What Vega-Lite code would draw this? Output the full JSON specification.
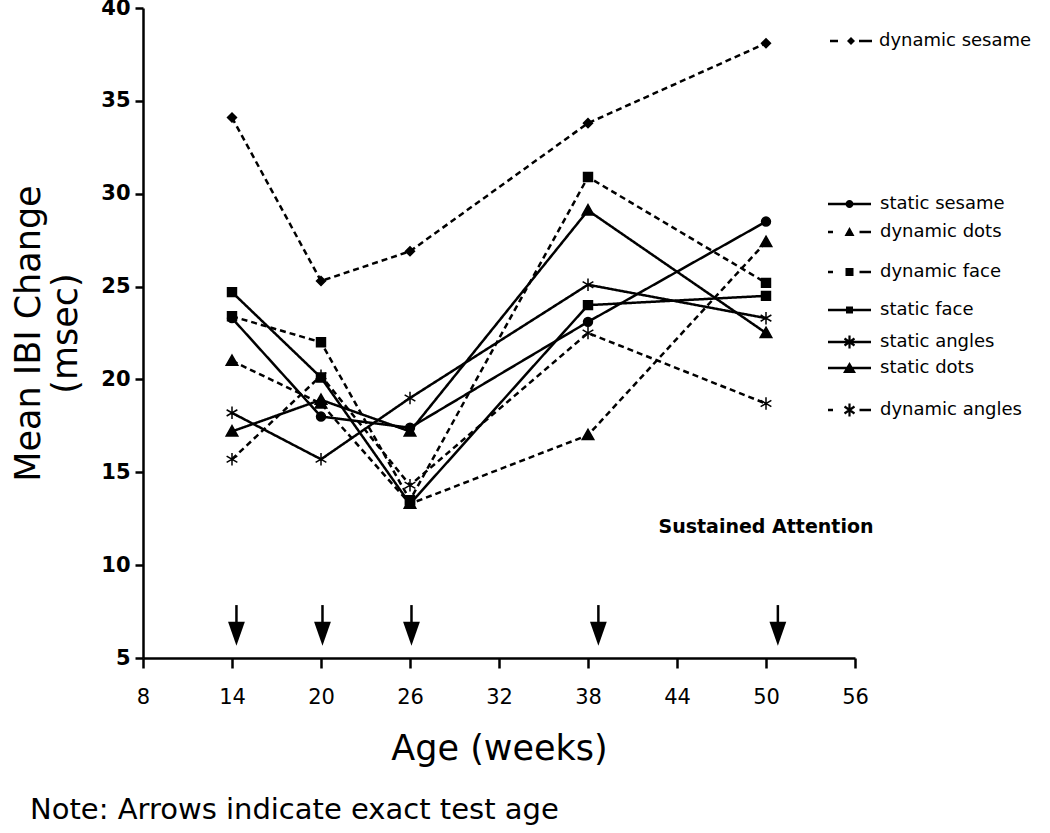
{
  "$schema": "https://vega.github.io/schema/vega-lite/v6.json",
  "width": 712,
  "height": 650,
  "autosize": {"type": "none"},
  "padding": {"left": 143, "top": 8, "right": 195, "bottom": 175},
  "background": "white",
  "title": {
    "text": "Note: Arrows indicate exact test age",
    "orient": "bottom",
    "anchor": "start",
    "frame": "group",
    "dx": -113,
    "offset": 30,
    "font": "DejaVu Sans",
    "fontSize": 29,
    "fontWeight": "normal",
    "color": "black"
  },
  "datasets": {
    "ibi": [
      {"series": "dynamic sesame", "age": 14, "ibi": 34.1},
      {"series": "dynamic sesame", "age": 20, "ibi": 25.3},
      {"series": "dynamic sesame", "age": 26, "ibi": 26.9},
      {"series": "dynamic sesame", "age": 38, "ibi": 33.8},
      {"series": "dynamic sesame", "age": 50, "ibi": 38.1},
      {"series": "static sesame", "age": 14, "ibi": 23.3},
      {"series": "static sesame", "age": 20, "ibi": 18.0},
      {"series": "static sesame", "age": 26, "ibi": 17.4},
      {"series": "static sesame", "age": 38, "ibi": 23.1},
      {"series": "static sesame", "age": 50, "ibi": 28.5},
      {"series": "dynamic dots", "age": 14, "ibi": 21.0},
      {"series": "dynamic dots", "age": 20, "ibi": 18.7},
      {"series": "dynamic dots", "age": 26, "ibi": 13.3},
      {"series": "dynamic dots", "age": 38, "ibi": 17.0},
      {"series": "dynamic dots", "age": 50, "ibi": 27.4},
      {"series": "dynamic face", "age": 14, "ibi": 23.4},
      {"series": "dynamic face", "age": 20, "ibi": 22.0},
      {"series": "dynamic face", "age": 26, "ibi": 13.5},
      {"series": "dynamic face", "age": 38, "ibi": 30.9},
      {"series": "dynamic face", "age": 50, "ibi": 25.2},
      {"series": "static face", "age": 14, "ibi": 24.7},
      {"series": "static face", "age": 20, "ibi": 20.1},
      {"series": "static face", "age": 26, "ibi": 13.3},
      {"series": "static face", "age": 38, "ibi": 24.0},
      {"series": "static face", "age": 50, "ibi": 24.5},
      {"series": "static angles", "age": 14, "ibi": 18.2},
      {"series": "static angles", "age": 20, "ibi": 15.7},
      {"series": "static angles", "age": 26, "ibi": 19.0},
      {"series": "static angles", "age": 38, "ibi": 25.1},
      {"series": "static angles", "age": 50, "ibi": 23.3},
      {"series": "static dots", "age": 14, "ibi": 17.2},
      {"series": "static dots", "age": 20, "ibi": 18.9},
      {"series": "static dots", "age": 26, "ibi": 17.2},
      {"series": "static dots", "age": 38, "ibi": 29.1},
      {"series": "static dots", "age": 50, "ibi": 22.5},
      {"series": "dynamic angles", "age": 14, "ibi": 15.7},
      {"series": "dynamic angles", "age": 20, "ibi": 20.2},
      {"series": "dynamic angles", "age": 26, "ibi": 14.3},
      {"series": "dynamic angles", "age": 38, "ibi": 22.5},
      {"series": "dynamic angles", "age": 50, "ibi": 18.7}
    ],
    "arrows": [
      {"test_age": 14.3},
      {"test_age": 20.1},
      {"test_age": 26.1},
      {"test_age": 38.7},
      {"test_age": 50.8}
    ],
    "notes": [
      {"label": "Sustained Attention"}
    ]
  },
  "config": {
    "view": {"stroke": null},
    "axis": {
      "grid": false,
      "domainColor": "black",
      "domainWidth": 2.5,
      "tickColor": "black",
      "tickWidth": 2.5,
      "labelColor": "black",
      "titleColor": "black",
      "labelFont": "DejaVu Sans",
      "titleFont": "DejaVu Sans",
      "titleFontWeight": "normal"
    }
  },
  "layer": [
    {
      "data": {"name": "ibi"},
      "mark": {"type": "line", "color": "black", "strokeWidth": 2.5},
      "encoding": {
        "x": {
          "field": "age", "type": "quantitative",
          "scale": {"domain": [8, 56], "nice": false, "zero": false},
          "axis": {
            "values": [8, 14, 20, 26, 32, 38, 44, 50, 56],
            "title": "Age (weeks)",
            "titleFontSize": 35,
            "titlePadding": 24,
            "labelFontSize": 21,
            "labelPadding": 18,
            "tickSize": 10,
            "labelFlush": false
          }
        },
        "y": {
          "field": "ibi", "type": "quantitative",
          "scale": {"domain": [5, 40], "nice": false, "zero": false},
          "axis": {
            "values": [5, 10, 15, 20, 25, 30, 35, 40],
            "title": ["Mean IBI Change", "(msec)"],
            "titleFontSize": 35,
            "titleLineHeight": 37,
            "titlePadding": 17,
            "labelFontSize": 21,
            "labelFontWeight": "bold",
            "labelPadding": 5,
            "tickSize": 8,
            "labelFlush": false
          }
        },
        "detail": {"field": "series"},
        "strokeDash": {
          "field": "series", "type": "nominal",
          "scale": {
            "domain": ["dynamic sesame", "static sesame", "dynamic dots", "dynamic face", "static face", "static angles", "static dots", "dynamic angles"],
            "range": [[6, 4], [1, 0], [6, 4], [6, 4], [1, 0], [1, 0], [1, 0], [6, 4]]
          },
          "legend": null
        }
      }
    },
    {
      "data": {"name": "ibi"},
      "mark": {"type": "point", "filled": true, "color": "black", "stroke": "black", "strokeWidth": 1.5, "size": 80, "opacity": 1},
      "encoding": {
        "x": {"field": "age", "type": "quantitative"},
        "y": {"field": "ibi", "type": "quantitative"},
        "shape": {
          "field": "series", "type": "nominal",
          "scale": {
            "domain": ["dynamic sesame", "static sesame", "dynamic dots", "dynamic face", "static face", "static angles", "static dots", "dynamic angles"],
            "range": ["diamond", "circle", "M0,-1.3L1.3,1L-1.3,1Z", "square", "square", "M0,-1.4L0,1.4M-1.2,-0.7L1.2,0.7M-1.2,0.7L1.2,-0.7", "M0,-1.3L1.3,1L-1.3,1Z", "M0,-1.4L0,1.4M-1.2,-0.7L1.2,0.7M-1.2,0.7L1.2,-0.7"]
          },
          "legend": null
        }
      }
    },
    {
      "data": {"name": "ibi"},
      "transform": [{"filter": "datum.series === 'dynamic sesame'"}],
      "mark": {"type": "point", "filled": true, "fill": "black", "strokeWidth": 0, "opacity": 0},
      "encoding": {
        "x": {"field": "age", "type": "quantitative"},
        "y": {"field": "ibi", "type": "quantitative"},
        "shape": {
          "field": "series", "type": "nominal",
          "scale": {
            "domain": ["dynamic sesame"],
            "range": ["M-4.2,-0.25L-2.6,-0.25L-2.6,0.25L-4.2,0.25ZM0,-0.8L0.8,0L0,0.8L-0.8,0ZM1.6,-0.25L4.2,-0.25L4.2,0.25L1.6,0.25Z"]
          },
          "legend": {
            "orient": "none", "legendX": 699, "legendY": 24,
            "title": null, "padding": 0,
            "labelFont": "DejaVu Sans", "labelFontSize": 18, "labelColor": "black",
            "labelOffset": 19,
            "symbolOpacity": 1, "symbolFillColor": "black", "symbolStrokeWidth": 0, "symbolSize": 100
          }
        }
      }
    },
    {
      "data": {"name": "ibi"},
      "transform": [{"filter": "datum.series !== 'dynamic sesame'"}],
      "mark": {"type": "point", "filled": true, "fill": "black", "strokeWidth": 0, "opacity": 0},
      "encoding": {
        "x": {"field": "age", "type": "quantitative"},
        "y": {"field": "ibi", "type": "quantitative"},
        "shape": {
          "field": "series", "type": "nominal",
          "scale": {
            "domain": ["static sesame", "dynamic dots", "dynamic face", "static face", "static angles", "static dots", "dynamic angles"],
            "range": [
              "M-4.3,-0.25L4.3,-0.25L4.3,0.25L-4.3,0.25ZM-0.8,0A0.8 0.8 0 1 1 0.8,0A0.8 0.8 0 1 1 -0.8,0ZM0,-2M0,2.7",
              "M-4.3,-0.25L-3.3,-0.25L-3.3,0.25L-4.3,0.25ZM0,-1L1,0.8L-1,0.8ZM2,-0.25L4.3,-0.25L4.3,0.25L2,0.25ZM0,-2.7M0,4",
              "M-4.3,-0.25L-3.3,-0.25L-3.3,0.25L-4.3,0.25ZM-0.8,-0.8L0.8,-0.8L0.8,0.8L-0.8,0.8ZM2,-0.25L4.3,-0.25L4.3,0.25L2,0.25ZM0,-4M0,3.7",
              "M-4.3,-0.25L4.3,-0.25L4.3,0.25L-4.3,0.25ZM-0.7,-0.7L0.7,-0.7L0.7,0.7L-0.7,0.7ZM0,-3.7M0,3.1",
              "M-4.3,-0.25L4.3,-0.25L4.3,0.25L-4.3,0.25ZM-0.22,-1.3L0.22,-1.3L0.22,1.3L-0.22,1.3ZM-0.874,-0.88L1.126,0.52L0.874,0.88L-1.126,-0.52ZM-1.126,0.52L0.874,-0.88L1.126,-0.52L-0.874,0.88ZM0,-3.1M0,2.6",
              "M-4.3,-0.25L4.3,-0.25L4.3,0.25L-4.3,0.25ZM0,-1.2L1.3,1L-1.3,1ZM0,-2.6M0,4.2",
              "M-4.3,-0.25L-3.3,-0.25L-3.3,0.25L-4.3,0.25ZM-0.22,-1.3L0.22,-1.3L0.22,1.3L-0.22,1.3ZM-0.874,-0.88L1.126,0.52L0.874,0.88L-1.126,-0.52ZM-1.126,0.52L0.874,-0.88L1.126,-0.52L-0.874,0.88ZM2,-0.25L4.3,-0.25L4.3,0.25L2,0.25ZM0,-4.2M0,2"
            ]
          },
          "legend": {
            "orient": "none", "legendX": 697.5, "legendY": 187,
            "title": null, "padding": 0, "rowPadding": 0,
            "labelFont": "DejaVu Sans", "labelFontSize": 18, "labelColor": "black",
            "labelOffset": 21.5,
            "symbolOpacity": 1, "symbolFillColor": "black", "symbolStrokeWidth": 0, "symbolSize": 100
          }
        }
      }
    },
    {
      "data": {"name": "arrows"},
      "mark": {"type": "rule", "color": "black", "strokeWidth": 2.5},
      "encoding": {
        "x": {"field": "test_age", "type": "quantitative"},
        "y": {"datum": 7.85},
        "y2": {"datum": 6.6}
      }
    },
    {
      "data": {"name": "arrows"},
      "mark": {"type": "point", "filled": true, "color": "black", "opacity": 1, "size": 144, "shape": "M-1.4,-2L1.4,-2L0,2Z"},
      "encoding": {
        "x": {"field": "test_age", "type": "quantitative"},
        "y": {"datum": 6.3}
      }
    },
    {
      "data": {"name": "notes"},
      "mark": {"type": "text", "font": "DejaVu Sans", "fontSize": 19, "fontWeight": "bold", "color": "black", "align": "center", "baseline": "middle"},
      "encoding": {
        "text": {"field": "label"},
        "x": {"datum": 50},
        "y": {"datum": 12.05}
      }
    }
  ],
  "resolve": {"scale": {"shape": "independent"}, "legend": {"shape": "independent"}}
}
